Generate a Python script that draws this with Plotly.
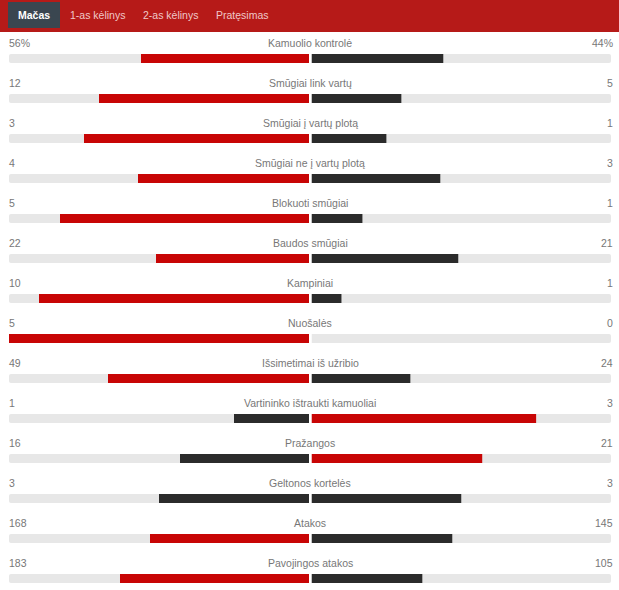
import plotly.graph_objects as go

W = 619
H = 590
RED = "#c80505"
DARK = "#2b2b2b"
TRACK = "#e7e7e7"
TEXT = "#777777"
FONT = "Liberation Sans"

# label, left value, right value, shown text left, shown text right
stats = [
    ("Kamuolio kontrolė", 56, 44, "56%", "44%"),
    ("Smūgiai link vartų", 12, 5, "12", "5"),
    ("Smūgiai į vartų plotą", 3, 1, "3", "1"),
    ("Smūgiai ne į vartų plotą", 4, 3, "4", "3"),
    ("Blokuoti smūgiai", 5, 1, "5", "1"),
    ("Baudos smūgiai", 22, 21, "22", "21"),
    ("Kampiniai", 10, 1, "10", "1"),
    ("Nuošalės", 5, 0, "5", "0"),
    ("Išsimetimai iš užribio", 49, 24, "49", "24"),
    ("Vartininko ištraukti kamuoliai", 1, 3, "1", "3"),
    ("Pražangos", 16, 21, "16", "21"),
    ("Geltonos kortelės", 3, 3, "3", "3"),
    ("Atakos", 168, 145, "168", "145"),
    ("Pavojingos atakos", 183, 105, "183", "105"),
]
tabs = [("Mačas", 33.5), ("1-as kėlinys", 97), ("2-as kėlinys", 170.5), ("Pratęsimas", 242)]

rows = list(range(len(stats)))
# site rounds the left share down to whole percent, right side gets the rest
left_share = [100 * s[1] // (s[1] + s[2]) for s in stats]
right_share = [100 - l for l in left_share]
# the bigger value is red, ties stay dark
left_col = [RED if s[1] > s[2] else DARK for s in stats]
right_col = [RED if s[2] > s[1] else DARK for s in stats]

fig = go.Figure()
bar_w = 0.225

# grey tracks first, then the values on top
fig.add_trace(go.Bar(y=rows, x=[100] * len(rows), orientation="h", width=bar_w, xaxis="x", yaxis="y",
                     marker=dict(color=TRACK, cornerradius=2, line_width=0), hoverinfo="skip"))
fig.add_trace(go.Bar(y=rows, x=[100] * len(rows), orientation="h", width=bar_w, xaxis="x2", yaxis="y",
                     marker=dict(color=TRACK, cornerradius=2, line_width=0), hoverinfo="skip"))
fig.add_trace(go.Bar(y=rows, x=left_share, orientation="h", width=bar_w, xaxis="x", yaxis="y",
                     marker=dict(color=left_col, line_width=0)))
fig.add_trace(go.Bar(y=rows, x=right_share, orientation="h", width=bar_w, xaxis="x2", yaxis="y",
                     marker=dict(color=right_col, line_width=0)))

annots = []
for i, s in enumerate(stats):
    font = dict(family=FONT, size=10.5, color=TEXT)
    annots.append(dict(x=310.5 / W, y=i, xref="paper", yref="y", yshift=15.5, text=s[0], showarrow=False,
                       xanchor="center", yanchor="middle", font=font))
    annots.append(dict(x=8.5 / W, y=i, xref="paper", yref="y", yshift=15.5, text=s[3], showarrow=False,
                       xanchor="left", yanchor="middle", font=font, xshift=-2))
    annots.append(dict(x=612.5 / W, y=i, xref="paper", yref="y", yshift=15.5, text=s[4], showarrow=False,
                       xanchor="right", yanchor="middle", font=font, xshift=2))

for t, x in tabs:
    active = t == "Mačas"
    annots.append(dict(x=x / W, y=1 - 15.5 / H, xref="paper", yref="paper", text="<b>%s</b>" % t if active else t,
                       showarrow=False, xanchor="center", yanchor="middle",
                       font=dict(family=FONT, size=10.5, color="#ffffff" if active else "#f0c8c8")))

shapes = [
    dict(type="rect", xref="paper", yref="paper", x0=0, x1=1, y0=1 - 32 / H, y1=1,
         fillcolor="#b61a18", line_width=0, layer="below"),
    dict(type="rect", xref="paper", yref="paper", x0=8 / W, x1=60 / W, y0=1 - 28 / H, y1=1 - 2 / H,
         fillcolor="#3a4650", line_width=0, layer="below"),
]

fig.update_layout(
    width=W, height=H, margin=dict(l=0, r=0, t=0, b=0),
    paper_bgcolor="white", plot_bgcolor="rgba(0,0,0,0)",
    barmode="overlay", showlegend=False,
    xaxis=dict(domain=[9 / W, 309 / W], range=[100, 0], visible=False, fixedrange=True),
    xaxis2=dict(domain=[311.5 / W, 611 / W], range=[0, 100], visible=False, fixedrange=True),
    yaxis=dict(range=[(H - 58.5) / 40, -58.5 / 40], visible=False, fixedrange=True),
    annotations=annots, shapes=shapes,
)

# page has a default 8px body margin, drop it so the header reaches the edges
fig.write_html("out.html", config={"displayModeBar": False},
               post_script="document.body.style.margin='0';document.body.style.overflow='hidden';")
